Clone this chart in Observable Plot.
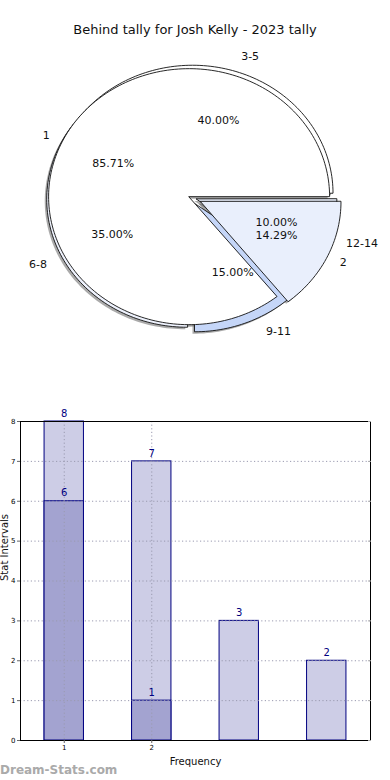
<!DOCTYPE html>
<html>
<head>
<meta charset="utf-8">
<script src="https://cdn.jsdelivr.net/npm/d3@7"></script>
<script src="https://cdn.jsdelivr.net/npm/@observablehq/plot@0.6"></script>
<style>
  body { margin: 0; background: #fff; font-family: "DejaVu Sans", sans-serif; }
  #wrap { position: relative; width: 390px; height: 780px; overflow: hidden; }
  #title { position: absolute; top: 22px; left: 0; width: 390px; text-align: center; font-size: 13px; color: #111; }
  #pie { position: absolute; top: 40px; left: 0; }
  #bars { position: absolute; top: 400px; left: 0; }
  #wm { position: absolute; left: 0; top: 763px; font-size: 12px; font-weight: bold; color: #aaa; }
</style>
</head>
<body>
<div id="wrap">
  <div id="title">Behind tally for Josh Kelly - 2023 tally</div>
  <div id="pie"></div>
  <div id="bars"></div>
  <div id="wm">Dream-Stats.com</div>
</div>
<script>
// ---- data ----
const outerLabels = ["3-5", "6-8", "9-11", "12-14"];
const outerValues = [8, 7, 3, 2];
const innerLabels = ["1", "2"];
const innerValues = [6, 1];

const barPositions = [1, 2, 3, 4];
const lightValues = [8, 7, 3, 2];
const darkPositions = [1, 2];
const darkValues = [6, 1];
const xTicks = [1, 2];
const yTicks = [0, 1, 2, 3, 4, 5, 6, 7, 8];

// ---- pie geometry (data units; radius = 1) ----
const outerColors = ["#ffffff", "#eef2fd", "#c5d6f8", "#e8eefb"];
const outerExplode = [0.035, 0.03, 0.055, 0.04];
const innerColors = ["#ffffff", "#e9effc"];
const innerExplode = [0.015, 0.075];

function buildPie(labels, values, explode, colors, group) {
  const total = d3.sum(values);
  let start = 0;
  const pts = [], lbls = [];
  labels.forEach((lab, i) => {
    const sweep = values[i] / total * 360;
    const end = start + sweep;
    const mid = (start + end) / 2 * Math.PI / 180;
    const ox = explode[i] * Math.cos(mid), oy = explode[i] * Math.sin(mid);
    const key = group + lab;
    pts.push({key, color: colors[i], x: ox, y: oy});
    const n = Math.max(2, Math.ceil(sweep / 1.5));
    for (let k = 0; k <= n; k++) {
      const a = (start + sweep * k / n) * Math.PI / 180;
      pts.push({key, color: colors[i], x: ox + Math.cos(a), y: oy + Math.sin(a)});
    }
    const lr = group === "o" ? 1.12 : 1.1;
    lbls.push({
      label: lab,
      pct: (values[i] / total * 100).toFixed(2) + "%",
      lx: ox + lr * Math.cos(mid), ly: oy + lr * Math.sin(mid),
      px: ox + 0.6 * Math.cos(mid), py: oy + 0.6 * Math.sin(mid),
      right: Math.cos(mid) > 0
    });
    start = end;
  });
  return {pts, lbls};
}

const outer = buildPie(outerLabels, outerValues, outerExplode, outerColors, "o");
const inner = buildPie(innerLabels, innerValues, innerExplode, innerColors, "i");
const allLbls = outer.lbls.concat(inner.lbls);

const pie = Plot.plot({
  width: 390, height: 310,
  x: {domain: [-1, 1], range: [50, 331], axis: null},
  y: {domain: [-1, 1], range: [285, 29], axis: null},
  style: {fontFamily: "DejaVu Sans, sans-serif", background: "transparent"},
  marks: [
    // shadows
    Plot.line(outer.pts.concat(inner.pts), {x: "x", y: "y", z: "key", curve: "linear-closed",
      fill: "#555", fillOpacity: 0.5, stroke: "none", dx: -2, dy: 2}),
    // outer pie
    Plot.line(outer.pts, {x: "x", y: "y", z: "key", curve: "linear-closed",
      fill: d => d.color, stroke: "#111", strokeWidth: 0.9}),
    // inner pie
    Plot.line(inner.pts, {x: "x", y: "y", z: "key", curve: "linear-closed",
      fill: d => d.color, stroke: "#111", strokeWidth: 0.9}),
    Plot.text(allLbls.filter(d => d.right), {x: "lx", y: "ly", text: "label", textAnchor: "start", fontSize: 11, fill: "#111"}),
    Plot.text(allLbls.filter(d => !d.right), {x: "lx", y: "ly", text: "label", textAnchor: "end", fontSize: 11, fill: "#111"}),
    Plot.text(allLbls, {x: "px", y: "py", text: "pct", fontSize: 11, fill: "#111"})
  ]
});
document.getElementById("pie").appendChild(pie);

// ---- bar chart ----
const lightRows = barPositions.map((p, i) => ({p, v: lightValues[i]}));
const darkRows = darkPositions.map((p, i) => ({p, v: darkValues[i]}));
const hw = 0.225;

const bars = Plot.plot({
  width: 390, height: 380,
  marginLeft: 20, marginRight: 20, marginTop: 21, marginBottom: 40,
  x: {domain: [0.5, 4.5], axis: null},
  y: {domain: [0, 8], axis: null},
  style: {fontFamily: "DejaVu Sans, sans-serif", background: "transparent"},
  marks: [
    Plot.rectY(lightRows, {x1: d => d.p - hw, x2: d => d.p + hw, y: "v", fill: "#cdcde6", stroke: "#000080", strokeWidth: 1}),
    Plot.rectY(darkRows, {x1: d => d.p - hw, x2: d => d.p + hw, y: "v", fill: "#a3a3d0", stroke: "#000080", strokeWidth: 1}),
    Plot.ruleY(yTicks.slice(1, -1), {stroke: "#9a9ab0", strokeDasharray: "1.2,2.4", strokeWidth: 1}),
    Plot.ruleX(xTicks, {stroke: "#9a9ab0", strokeDasharray: "1.2,2.4", strokeWidth: 1}),
    Plot.text(lightRows, {x: "p", y: "v", text: d => String(d.v), dy: -8, fill: "#000080", fontSize: 10}),
    Plot.text(darkRows, {x: "p", y: "v", text: d => String(d.v), dy: -8, fill: "#000080", fontSize: 10}),
    Plot.frame({stroke: "#000", strokeWidth: 1}),
    Plot.axisY(yTicks, {anchor: "left", tickSize: 3, tickPadding: 2, fontSize: 7, label: null, stroke: "#666"}),
    Plot.axisY(yTicks, {anchor: "right", tickSize: -3, tickFormat: () => "", label: null, stroke: "#aaa"}),
    Plot.axisX(xTicks, {anchor: "bottom", tickSize: 3, tickPadding: 2, fontSize: 7, label: null, stroke: "#666"}),
    Plot.text(["Frequency"], {frameAnchor: "bottom", dy: 24, fontSize: 10, fill: "#111"}),
    Plot.text(["Stat Intervals"], {frameAnchor: "left", rotate: -90, dx: -16, fontSize: 10, fill: "#111"})
  ]
});
document.getElementById("bars").appendChild(bars);
</script>
</body>
</html>
